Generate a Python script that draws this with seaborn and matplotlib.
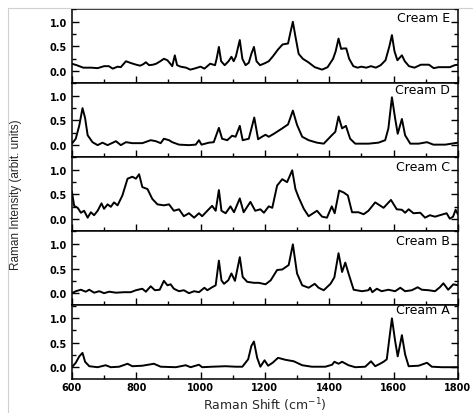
import numpy as np
import pandas as pd
import matplotlib
matplotlib.use("Agg")
import matplotlib.pyplot as plt
from matplotlib.ticker import MultipleLocator
from matplotlib.lines import Line2D
import seaborn as sns

# Values (Raman shift in cm-1, intensity in arbit. units)
shift_e = [600, 615, 635, 660, 680, 700, 715, 727, 742, 752, 768, 785, 800, 812, 822, 830, 840,
           852, 862, 875, 886, 897, 906, 912, 920, 927, 938, 955, 968, 980, 1000, 1012, 1030,
           1045, 1050, 1057, 1064, 1075, 1087, 1096, 1103, 1110, 1122, 1130, 1140, 1150, 1158,
           1166, 1174, 1185, 1200, 1212, 1225, 1241, 1255, 1272, 1280, 1287, 1295, 1305, 1318,
           1335, 1355, 1378, 1395, 1412, 1420, 1429, 1437, 1445, 1453, 1462, 1475, 1488, 1500,
           1515, 1530, 1545, 1560, 1575, 1587, 1595, 1603, 1612, 1626, 1635, 1648, 1665, 1685,
           1710, 1725, 1740, 1760, 1775, 1790, 1800]
cream_e = [0.15, 0.12, 0.07, 0.07, 0.06, 0.10, 0.10, 0.05, 0.09, 0.08, 0.20, 0.16, 0.13, 0.11,
           0.14, 0.18, 0.12, 0.13, 0.15, 0.20, 0.25, 0.22, 0.15, 0.10, 0.32, 0.12, 0.09, 0.07,
           0.03, 0.05, 0.09, 0.05, 0.15, 0.12, 0.25, 0.49, 0.20, 0.12, 0.20, 0.29, 0.20, 0.30,
           0.63, 0.25, 0.12, 0.17, 0.35, 0.49, 0.20, 0.12, 0.16, 0.20, 0.30, 0.44, 0.54, 0.56,
           0.80, 1.00, 0.70, 0.35, 0.25, 0.18, 0.08, 0.03, 0.08, 0.25, 0.40, 0.66, 0.45, 0.46,
           0.46, 0.25, 0.10, 0.07, 0.09, 0.07, 0.10, 0.07, 0.12, 0.22, 0.50, 0.73, 0.40, 0.22,
           0.32, 0.20, 0.10, 0.07, 0.13, 0.13, 0.06, 0.08, 0.08, 0.08, 0.12, 0.13]

shift_d = [600, 612, 623, 633, 641, 649, 664, 680, 695, 711, 737, 752, 768, 788, 819, 845, 861,
           876, 886, 902, 912, 933, 964, 985, 995, 1003, 1026, 1041, 1057, 1067, 1083, 1098,
           1109, 1122, 1131, 1150, 1167, 1179, 1191, 1202, 1212, 1228, 1254, 1272, 1287, 1300,
           1316, 1336, 1362, 1383, 1408, 1419, 1429, 1440, 1452, 1465, 1481, 1522, 1553, 1574,
           1584, 1595, 1605, 1613, 1626, 1636, 1652, 1678, 1704, 1724, 1761, 1800]
cream_d = [0.03, 0.13, 0.40, 0.75, 0.55, 0.20, 0.06, 0.00, 0.05, 0.00, 0.08, 0.00, 0.06, 0.04,
           0.04, 0.10, 0.08, 0.04, 0.13, 0.10, 0.06, 0.01, 0.00, 0.01, 0.10, 0.01, 0.05, 0.06,
           0.35, 0.13, 0.10, 0.19, 0.17, 0.39, 0.10, 0.13, 0.56, 0.12, 0.17, 0.21, 0.17, 0.23,
           0.34, 0.42, 0.70, 0.41, 0.17, 0.10, 0.05, 0.03, 0.20, 0.27, 0.58, 0.34, 0.39, 0.13,
           0.03, 0.03, 0.05, 0.10, 0.34, 0.97, 0.54, 0.23, 0.53, 0.20, 0.03, 0.03, 0.06, 0.01,
           0.01, 0.05]

shift_c = [600, 607, 618, 628, 638, 649, 659, 669, 680, 692, 700, 711, 721, 731, 742, 757, 773,
           788, 799, 809, 819, 835, 850, 866, 886, 902, 917, 933, 948, 964, 980, 995, 1005, 1021,
           1036, 1047, 1057, 1065, 1078, 1093, 1104, 1122, 1134, 1155, 1170, 1186, 1197, 1212,
           1223, 1238, 1254, 1269, 1285, 1295, 1305, 1321, 1336, 1362, 1378, 1393, 1408, 1417,
           1431, 1445, 1458, 1471, 1491, 1507, 1522, 1543, 1569, 1592, 1610, 1626, 1636, 1647,
           1662, 1683, 1698, 1713, 1729, 1744, 1765, 1775, 1785, 1793, 1800]
cream_c = [0.56, 0.27, 0.23, 0.13, 0.17, 0.03, 0.14, 0.08, 0.17, 0.32, 0.21, 0.30, 0.25, 0.34,
           0.28, 0.48, 0.82, 0.86, 0.82, 0.91, 0.65, 0.61, 0.41, 0.30, 0.28, 0.30, 0.17, 0.20,
           0.06, 0.12, 0.03, 0.12, 0.06, 0.17, 0.27, 0.17, 0.59, 0.17, 0.12, 0.26, 0.14, 0.42,
           0.14, 0.35, 0.17, 0.20, 0.13, 0.26, 0.23, 0.68, 0.81, 0.75, 0.99, 0.61, 0.44, 0.21,
           0.06, 0.17, 0.05, 0.03, 0.26, 0.12, 0.58, 0.54, 0.48, 0.14, 0.14, 0.10, 0.17, 0.34,
           0.23, 0.39, 0.20, 0.19, 0.13, 0.20, 0.12, 0.13, 0.03, 0.08, 0.05, 0.08, 0.12, 0.01,
           0.05, 0.19, 0.10]

shift_b = [600, 612, 628, 643, 654, 669, 685, 700, 716, 737, 762, 783, 799, 819, 830, 845, 858,
           873, 886, 897, 907, 917, 933, 948, 964, 980, 995, 1012, 1021, 1036, 1047, 1057, 1065,
           1073, 1086, 1096, 1107, 1122, 1131, 1145, 1166, 1181, 1202, 1218, 1238, 1254, 1274,
           1287, 1300, 1316, 1336, 1355, 1367, 1383, 1404, 1416, 1429, 1440, 1450, 1460, 1476,
           1502, 1522, 1527, 1534, 1548, 1563, 1584, 1605, 1621, 1636, 1657, 1675, 1688, 1709,
           1729, 1744, 1755, 1770, 1786, 1800]
cream_b = [0.00, 0.04, 0.07, 0.03, 0.07, 0.01, 0.04, 0.00, 0.03, 0.01, 0.02, 0.02, 0.06, 0.09,
           0.03, 0.14, 0.06, 0.07, 0.25, 0.16, 0.18, 0.09, 0.04, 0.06, 0.00, 0.04, 0.02, 0.11,
           0.06, 0.12, 0.16, 0.66, 0.26, 0.19, 0.26, 0.40, 0.25, 0.73, 0.33, 0.23, 0.21, 0.21,
           0.18, 0.26, 0.47, 0.48, 0.57, 0.99, 0.40, 0.16, 0.11, 0.19, 0.11, 0.06, 0.19, 0.32,
           0.81, 0.43, 0.62, 0.40, 0.07, 0.04, 0.06, 0.11, 0.02, 0.09, 0.04, 0.07, 0.04, 0.11,
           0.04, 0.06, 0.12, 0.07, 0.06, 0.04, 0.12, 0.20, 0.07, 0.18, 0.16]

shift_a = [600, 612, 623, 633, 641, 654, 680, 705, 721, 747, 773, 788, 819, 855, 876, 923, 954,
           969, 995, 1005, 1036, 1078, 1109, 1130, 1148, 1158, 1166, 1176, 1186, 1199, 1210,
           1224, 1241, 1264, 1290, 1316, 1346, 1388, 1409, 1416, 1429, 1440, 1460, 1481, 1512,
           1530, 1543, 1558, 1569, 1579, 1586, 1595, 1605, 1613, 1626, 1636, 1647, 1678, 1704,
           1719, 1750, 1800]
cream_a = [0.00, 0.09, 0.22, 0.29, 0.11, 0.02, 0.00, 0.04, 0.00, 0.01, 0.07, 0.02, 0.03, 0.07,
           0.01, 0.00, 0.04, 0.00, 0.05, 0.00, 0.01, 0.02, 0.01, 0.01, 0.16, 0.43, 0.52, 0.19,
           0.01, 0.14, 0.03, 0.09, 0.19, 0.15, 0.12, 0.04, 0.01, 0.01, 0.05, 0.11, 0.07, 0.11,
           0.04, 0.00, 0.01, 0.12, 0.02, 0.07, 0.11, 0.16, 0.53, 0.99, 0.53, 0.22, 0.65, 0.26,
           0.02, 0.03, 0.09, 0.01, 0.00, 0.00]

names = ["Cream E", "Cream D", "Cream C", "Cream B", "Cream A"]
spectra = [(shift_e, cream_e), (shift_d, cream_d), (shift_c, cream_c),
           (shift_b, cream_b), (shift_a, cream_a)]
label_y = [0.89, 0.91, 0.87, 0.865, 0.945]

sns.set_style("ticks")
plt.rcParams['font.family'] = ['DejaVu Sans']

fig, axes = plt.subplots(5, 1, sharex=True, figsize=(4.73, 4.14), dpi=100)
fig.subplots_adjust(left=0.152, right=0.968, top=0.976, bottom=0.082, hspace=0)

for ax, name, (x, y), ly in zip(axes, names, spectra, label_y):
    df = pd.DataFrame({"shift": x, "intensity": y})
    sns.lineplot(data=df, x="shift", y="intensity", ax=ax, color="black",
                 linewidth=1.4, sort=False, estimator=None)
    ax.set_xlim(600, 1800)
    ax.set_ylim(-0.24, 1.26)
    ax.set_xlabel("")
    ax.set_ylabel("")
    ax.xaxis.set_major_locator(MultipleLocator(200))
    ax.xaxis.set_minor_locator(MultipleLocator(100))
    ax.yaxis.set_major_locator(MultipleLocator(0.5))
    ax.yaxis.set_minor_locator(MultipleLocator(0.25))
    ax.tick_params(which="both", direction="in", left=True, right=True, top=False,
                   bottom=True, width=1, colors="black")
    ax.tick_params(which="major", length=5)
    ax.tick_params(which="minor", length=2.8)
    ax.tick_params(axis="y", which="major", labelsize=7)
    ax.tick_params(axis="x", which="major", labelsize=7, pad=2)
    for lab in ax.get_yticklabels():
        lab.set_fontweight("bold")
    for sp in ax.spines.values():
        sp.set_visible(True)
        sp.set_linewidth(1.1)
        sp.set_color("black")
    ax.text(0.98, ly, name, transform=ax.transAxes, ha="right", va="center",
            fontsize=9, color="black")

for lab in axes[-1].get_xticklabels():
    lab.set_fontweight("bold")

fig.text(0.56, 1 - 405 / 414, r"Raman Shift (cm$^{-1}$)", ha="center", va="center",
         fontsize=9)
fig.text(0.034, 0.53, "Raman Intensity (arbit. units)", rotation=90, ha="center",
         va="center", fontsize=8.5, family=["Liberation Sans", "DejaVu Sans"])

# light frame around the figure, as in the reference
fig.add_artist(Line2D([8 / 473, 8 / 473], [0, 1 - 9 / 414], transform=fig.transFigure,
                      color="#d0d0d0", linewidth=0.8))
fig.add_artist(Line2D([8 / 473, 1], [1 - 9 / 414, 1 - 9 / 414], transform=fig.transFigure,
                      color="#d0d0d0", linewidth=0.8))

plt.savefig("out.png", dpi=100)
